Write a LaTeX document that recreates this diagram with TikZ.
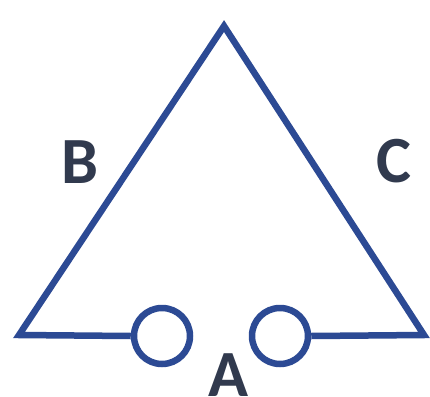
\documentclass[tikz,border=0pt]{standalone}
\usepackage{fontspec}
\setmainfont{Carlito}
\definecolor{lineblue}{HTML}{2C4A94}
\definecolor{txt}{HTML}{313A4E}
\begin{document}
\begin{tikzpicture}[x=1pt,y=-1pt,
  wire/.style={draw=lineblue,line width=6.5pt,line join=miter},
  term/.style={circle,draw=lineblue,line width=6.5pt,minimum size=56pt,inner sep=0pt,fill=white},
  lbl/.style={text=txt,font=\bfseries\fontsize{66}{66}\selectfont,inner sep=0pt}]
\useasboundingbox (0,0) rectangle (430,396);
\coordinate (top) at (224,26);
\coordinate (bl) at (19,335);
\coordinate (br) at (424,335);
\node[term] (t1) at (162,336) {};
\node[term] (t2) at (280,336) {};
\draw[wire] (t1.west) -- (bl) -- (top) -- (br) -- (t2.east);
\node[lbl] (B) at (80,162) {B};
\node[lbl] (C) at (394,161) {C};
\node[lbl,anchor=north] (A) at (228,353) {A};
\end{tikzpicture}
\end{document}
